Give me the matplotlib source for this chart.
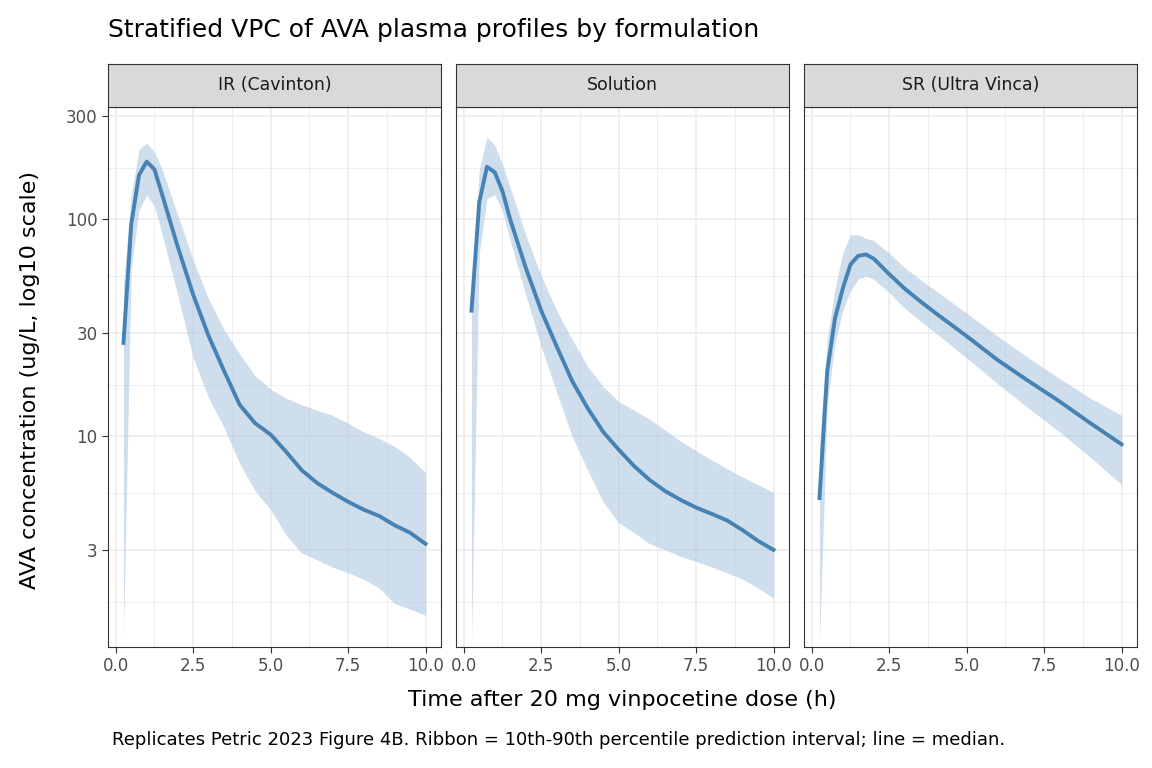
import numpy as np
import matplotlib.pyplot as plt
from matplotlib.ticker import FixedLocator, NullFormatter

plt.rcParams['font.family'] = ['DejaVu Sans']

panels = ["IR (Cavinton)", "Solution", "SR (Ultra Vinca)"]

t_ir = [0.25, 0.5, 0.75, 1.0, 1.25, 1.5, 2.0, 2.5, 3.0, 3.5, 4.0, 4.5, 5.0, 5.5, 6.0, 6.5, 7.0, 7.5, 8.0, 8.5, 9.0, 9.5, 10.0]
med_ir = [27, 95, 160, 185, 170, 130, 75, 45, 29, 20, 14, 11.5, 10.2, 8.5, 7.0, 6.1, 5.5, 5.0, 4.6, 4.3, 3.9, 3.6, 3.2]
lo_ir = [1.2, 60, 110, 130, 115, 85, 45, 23, 15, 11, 7.5, 5.6, 4.6, 3.5, 2.9, 2.7, 2.5, 2.35, 2.2, 2.0, 1.7, 1.6, 1.5]
hi_ir = [50, 130, 210, 225, 205, 170, 105, 65, 43, 31, 24, 19, 16.5, 15, 14, 13.2, 12.5, 11.5, 10.5, 9.8, 9.0, 8.0, 6.8]

t_sol = [0.25, 0.5, 0.75, 1.0, 1.25, 1.5, 2.0, 2.5, 3.0, 3.5, 4.0, 4.5, 5.0, 5.5, 6.0, 6.5, 7.0, 7.5, 8.0, 8.5, 9.0, 9.5, 10.0]
med_sol = [38, 120, 175, 165, 135, 100, 60, 38, 26, 18, 13.5, 10.5, 8.7, 7.3, 6.3, 5.6, 5.1, 4.7, 4.4, 4.1, 3.7, 3.3, 3.0]
lo_sol = [1.1, 70, 125, 130, 110, 80, 45, 26, 16, 10, 7, 5, 4, 3.6, 3.2, 3.0, 2.8, 2.65, 2.5, 2.35, 2.2, 2.0, 1.8]
hi_sol = [45, 170, 240, 220, 180, 140, 85, 55, 38, 28, 21, 17, 14.5, 13.2, 12, 10.7, 9.5, 8.6, 7.8, 7.1, 6.5, 6.0, 5.5]

t_sr = [0.25, 0.5, 0.75, 1.0, 1.25, 1.5, 1.75, 2.0, 2.5, 3.0, 3.5, 4.0, 5.0, 6.0, 7.0, 8.0, 9.0, 10.0]
med_sr = [5.2, 20, 35, 48, 62, 68, 69, 66, 56, 48, 42, 37, 29, 22.5, 18, 14.5, 11.5, 9.2]
lo_sr = [1.1, 14, 27, 38, 47, 53, 55, 53, 46, 39, 34, 30, 23, 17.5, 13.5, 10.5, 8, 6]
hi_sr = [9, 28, 48, 70, 85, 85, 82, 80, 70, 60, 53, 47, 37, 29, 23, 18.5, 15, 12.5]

data = [(t_ir, med_ir, lo_ir, hi_ir), (t_sol, med_sol, lo_sol, hi_sol), (t_sr, med_sr, lo_sr, hi_sr)]

fig = plt.figure(figsize=(11.52, 7.68), dpi=100)
lefts = [108 / 1152, 456 / 1152, 804 / 1152]
w = 333 / 1152
bottom = 1 - 647 / 768
h = (647 - 107) / 768
strip_h = 43 / 768

for i, (name, (t, med, lo, hi)) in enumerate(zip(panels, data)):
    ax = fig.add_axes([lefts[i], bottom, w, h])
    ax.fill_between(t, lo, hi, color="#b0c8e0", alpha=0.6, lw=0)
    ax.plot(t, med, color="#4682b4", lw=2.8)
    ax.set_yscale("log")
    ax.set_ylim(1.07, 330)
    ax.set_xlim(-0.25, 10.5)
    ax.set_xticks([0, 2.5, 5, 7.5, 10])
    ax.set_xticklabels(["0.0", "2.5", "5.0", "7.5", "10.0"])
    ax.xaxis.set_minor_locator(FixedLocator([1.25, 3.75, 6.25, 8.75]))
    ax.yaxis.set_major_locator(FixedLocator([3, 10, 30, 100, 300]))
    ax.yaxis.set_minor_locator(FixedLocator([1.73, 5.48, 17.3, 54.8, 173]))
    ax.yaxis.set_minor_formatter(NullFormatter())
    ax.grid(True, which="major", color="#ebebeb", lw=1.1)
    ax.grid(True, which="minor", color="#ebebeb", lw=0.6)
    ax.set_axisbelow(True)
    ax.tick_params(which="major", length=4, color="#333333", labelsize=12, labelcolor="#4d4d4d")
    ax.tick_params(which="minor", length=0)
    if i == 0:
        ax.set_yticklabels(["3", "10", "30", "100", "300"])
    else:
        ax.set_yticklabels([])
        ax.tick_params(axis="y", which="major", length=0)
    for s in ax.spines.values():
        s.set_color("#333333")
        s.set_linewidth(0.8)
    sax = fig.add_axes([lefts[i], bottom + h, w, strip_h])
    sax.set_facecolor("#d9d9d9")
    sax.set_xticks([])
    sax.set_yticks([])
    for s in sax.spines.values():
        s.set_color("#333333")
        s.set_linewidth(0.8)
    sax.text(0.5, 0.5, name, ha="center", va="center", fontsize=12.5, color="#1a1a1a", transform=sax.transAxes)

fig.text(108 / 1152, 1 - 30 / 768, "Stratified VPC of AVA plasma profiles by formulation", fontsize=18, va="center")
fig.text(0.54, 1 - 700 / 768, "Time after 20 mg vinpocetine dose (h)", fontsize=16, ha="center", va="center")
fig.text(30 / 1152, 1 - 380 / 768, "AVA concentration (ug/L, log10 scale)", fontsize=16, rotation=90, ha="center", va="center")
fig.text(0.485, 1 - 740 / 768, "Replicates Petric 2023 Figure 4B. Ribbon = 10th-90th percentile prediction interval; line = median.",
         fontsize=13, ha="center", va="center")

fig.savefig("out.png", dpi=100)
